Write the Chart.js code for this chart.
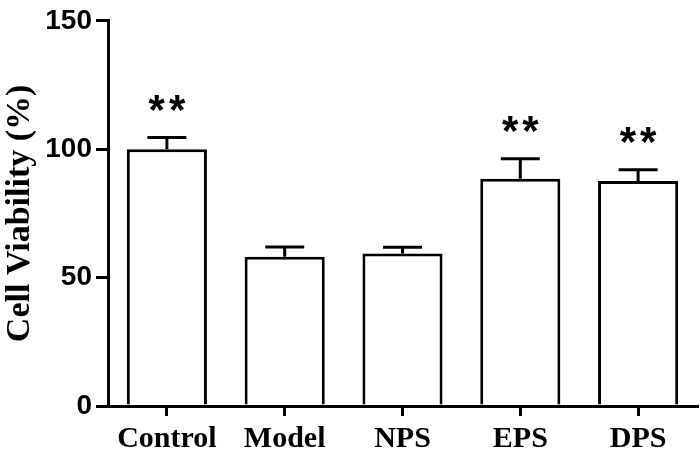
<!DOCTYPE html>
<html>
<head>
<meta charset="utf-8">
<script src="https://cdn.jsdelivr.net/npm/chart.js@4"></script>
<style>
  html, body { margin: 0; padding: 0; background: #fff; }
  #wrap { width: 700px; height: 453px; }
</style>
</head>
<body>
<div id="wrap"><canvas id="chartViability"></canvas></div>
<script>
// values
const groups = ['Control', 'Model', 'NPS', 'EPS', 'DPS'];
const viability = [100, 58.1, 59.4, 88.5, 87.6];
const sem = [4.6, 3.8, 2.4, 7.8, 4.4];
const marks = ['**', '', '', '**', '**'];
const yTicks = [0, 50, 100, 150];

// error bars (upper only) and significance stars
const errorBars = {
	id: 'errorBars',
	afterDatasetsDraw(chart) {
		const ctx = chart.ctx;
		const y = chart.scales.y;
		const meta = chart.getDatasetMeta(0);
		ctx.save();
		ctx.strokeStyle = '#000';
		ctx.lineWidth = 3;
		ctx.lineCap = 'butt';
		meta.data.forEach((bar, i) => {
			const top = y.getPixelForValue(viability[i] + sem[i]);
			const base = y.getPixelForValue(viability[i]);
			ctx.beginPath();
			ctx.moveTo(bar.x, base);
			ctx.lineTo(bar.x, top);
			ctx.moveTo(bar.x - 19.5, top);
			ctx.lineTo(bar.x + 19.5, top);
			ctx.stroke();
			if (marks[i]) {
				ctx.fillStyle = '#000';
				ctx.font = 'bold 42px "Liberation Sans"';
				ctx.letterSpacing = '4px';
				ctx.textAlign = 'center';
				ctx.textBaseline = 'middle';
				ctx.fillText(marks[i], bar.x + 2, top - 25);
			}
		});
		ctx.restore();
	}
};

const ctx = document.getElementById('chartViability').getContext('2d');
const chartViability = new Chart(ctx, {
	type: 'bar',
	data: {
		labels: groups,
		datasets: [
			{
				data: viability,
				backgroundColor: '#ffffff',
				borderColor: '#000000',
				borderWidth: 3,
				borderSkipped: 'bottom',
				categoryPercentage: 1,
				barPercentage: 0.68
			}
		]
	},
	options: {
		responsive: true,
		maintainAspectRatio: false,
		animation: false,
		layout: { padding: { top: 16, right: 3, left: 0, bottom: 0 } },
		plugins: {
			legend: { display: false },
			tooltip: { enabled: false }
		},
		scales: {
			x: {
				grid: {
					display: true,
					offset: false,
					drawOnChartArea: false,
					drawTicks: true,
					tickLength: 10,
					color: '#000',
					lineWidth: 3
				},
				border: { display: true, color: '#000', width: 3 },
				ticks: {
					color: '#000',
					padding: 5,
					font: { family: '"Liberation Serif"', weight: 'bold', size: 30 }
				},
				afterFit: function(scale) { scale.height = 47; }
			},
			y: {
				min: 0,
				max: 150,
				afterBuildTicks: function(scale) {
					scale.ticks = yTicks.map(v => ({ value: v }));
				},
				grid: {
					display: true,
					drawOnChartArea: false,
					drawTicks: true,
					tickLength: 12,
					color: '#000',
					lineWidth: 3
				},
				border: { display: true, color: '#000', width: 3 },
				ticks: {
					color: '#000',
					padding: 4,
					font: { family: '"Liberation Sans"', weight: 'bold', size: 28 }
				},
				title: {
					display: true,
					text: 'Cell Viability (%)',
					color: '#000',
					padding: 0,
					font: { family: '"Liberation Serif"', weight: 'bold', size: 34 }
				},
				afterFit: function(scale) { scale.width = 108; }
			}
		}
	},
	plugins: [errorBars]
});
</script>
</body>
</html>
